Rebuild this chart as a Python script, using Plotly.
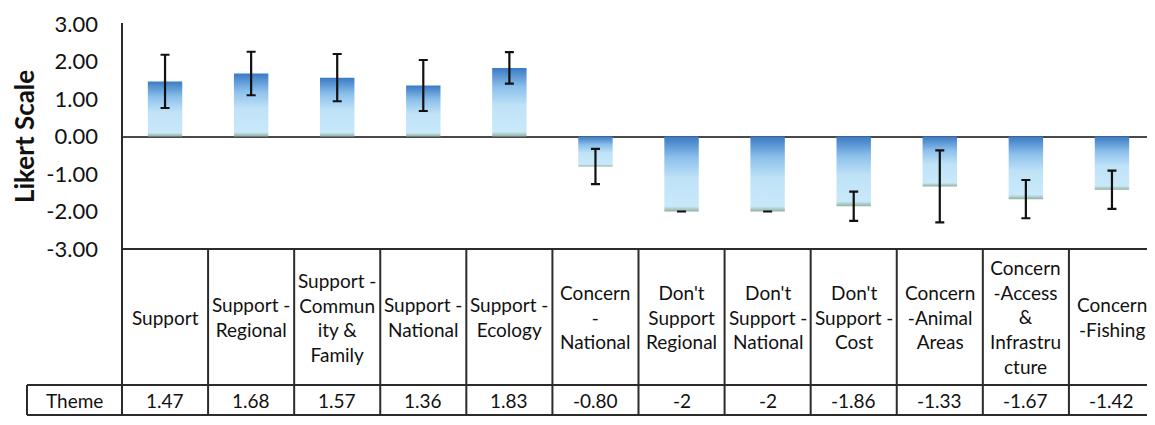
import plotly.graph_objects as go

# data
categories = [
    "Support",
    "Support -<br>Regional",
    "Support -<br>Commun<br>ity &<br>Family",
    "Support -<br>National",
    "Support -<br>Ecology",
    "Concern<br>-<br>National",
    "Don't<br>Support<br>Regional",
    "Don't<br>Support -<br>National",
    "Don't<br>Support -<br>Cost",
    "Concern<br>-Animal<br>Areas",
    "Concern<br>-Access<br>&<br>Infrastru<br>cture",
    "Concern<br>-Fishing",
]
values = [1.47, 1.68, 1.57, 1.36, 1.83, -0.80, -2, -2, -1.86, -1.33, -1.67, -1.42]
value_labels = ["1.47", "1.68", "1.57", "1.36", "1.83", "-0.80", "-2", "-2", "-1.86", "-1.33", "-1.67", "-1.42"]
# error bar half lengths
errors = [0.71, 0.58, 0.63, 0.68, 0.42, 0.47, 0.0, 0.0, 0.39, 0.96, 0.51, 0.51]
row_name = "Theme"
y_title = "Likert Scale"
y_ticks = [-3, -2, -1, 0, 1, 2, 3]
y_ticktext = [f"{t:.2f}" for t in y_ticks]  # plain hyphen like the original

FONT = "Lato, 'Open Sans', sans-serif"
TXT = "#111111"
LINE = "#2b2b2b"
# the page body adds an 8px offset, so the figure is a bit smaller than the window
OFF = 8
W, H = 1155 - OFF, 425 - OFF
AXIS_X = 122            # window px of the value axis
Y_TOP, Y_BOT = 24, 249  # window px of 3.00 and -3.00
Y_HDR, Y_ROW = 385, 415  # bottom of header row, bottom of value row
THEME_X = 27
BAR_HALF = 0.2


def px(pix):
    return (pix - OFF) / W


def py(pix):
    return (H - (pix - OFF)) / H


GRADIENT = [
    [0.0, "#93aea6"], [0.03, "#a9c9c4"], [0.07, "#c9e9fa"],
    [0.45, "#bfe2f7"], [0.72, "#8cc0eb"], [1.0, "#3a7ac4"],
]

traces = []
for i, v in enumerate(values):
    xs = [i - BAR_HALF, i + BAR_HALF, i + BAR_HALF, i - BAR_HALF, i - BAR_HALF]
    ys = [0, 0, v, v, 0]
    traces.append(go.Scatter(
        x=xs, y=ys, mode="none", fill="toself",
        fillgradient=dict(type="vertical", colorscale=GRADIENT),
        showlegend=False, hoverinfo="skip",
    ))

traces.append(go.Scatter(
    x=list(range(len(values))), y=values, mode="markers",
    marker=dict(opacity=0, size=1),
    error_y=dict(type="data", array=errors, color="#111111", thickness=2.2, width=4.5),
    showlegend=False,
))

fig = go.Figure(data=traces)

shapes = []
# value axis line, running down through the table
shapes.append(dict(type="line", xref="paper", yref="paper",
                   x0=px(AXIS_X), x1=px(AXIS_X), y0=py(Y_ROW), y1=py(Y_TOP - 1),
                   line=dict(color=LINE, width=2)))
# table horizontals
shapes.append(dict(type="line", xref="x", yref="paper", x0=-0.5, x1=11.5,
                   y0=py(Y_BOT), y1=py(Y_BOT), line=dict(color=LINE, width=2)))
for yy in (Y_HDR, Y_ROW):
    shapes.append(dict(type="line", xref="paper", yref="paper", x0=px(THEME_X), x1=1,
                       y0=py(yy), y1=py(yy), line=dict(color=LINE, width=2)))
shapes.append(dict(type="line", xref="paper", yref="paper", x0=px(THEME_X), x1=px(THEME_X),
                   y0=py(Y_ROW), y1=py(Y_HDR), line=dict(color=LINE, width=2)))
# column dividers
for k in range(len(values)):
    xb = k + 0.5
    shapes.append(dict(type="line", xref="x", yref="paper", x0=xb, x1=xb,
                       y0=py(Y_ROW), y1=py(Y_BOT), line=dict(color=LINE, width=2)))

annotations = []
for i, (cat, lab) in enumerate(zip(categories, value_labels)):
    annotations.append(dict(x=i, xref="x", y=py((Y_BOT + Y_HDR) / 2), yref="paper",
                            text=cat, showarrow=False, xanchor="center", yanchor="middle",
                            font=dict(family=FONT, size=19, color=TXT)))
    annotations.append(dict(x=i, xref="x", y=py((Y_HDR + Y_ROW) / 2), yref="paper",
                            text=lab, showarrow=False, xanchor="center", yanchor="middle",
                            font=dict(family=FONT, size=19, color=TXT)))
annotations.append(dict(x=px((THEME_X + AXIS_X) / 2), xref="paper", y=py((Y_HDR + Y_ROW) / 2),
                        yref="paper", text=row_name, showarrow=False, xanchor="center",
                        yanchor="middle", font=dict(family=FONT, size=19, color=TXT)))
annotations.append(dict(x=px(24), xref="paper", y=py(137), yref="paper", text=f"<b>{y_title}</b>",
                        textangle=-90, showarrow=False, xanchor="center", yanchor="middle",
                        font=dict(family=FONT, size=26, color=TXT)))

fig.update_layout(
    width=W, height=H,
    margin=dict(l=0, r=0, t=0, b=0),
    paper_bgcolor="white", plot_bgcolor="white",
    template="none",
    xaxis=dict(domain=[px(AXIS_X), 1], range=[-0.5, 11.5], showticklabels=False,
               showgrid=False, zeroline=False, showline=False, ticks="", automargin=False),
    yaxis=dict(domain=[py(Y_BOT), py(Y_TOP)], range=[-3, 3], tickvals=y_ticks, ticktext=y_ticktext,
               showgrid=False, zeroline=True, zerolinecolor="#4a4a4a", zerolinewidth=2,
               showline=False, ticks="", ticklabelstandoff=23, automargin=False,
               tickfont=dict(family=FONT, size=22, color=TXT)),
    shapes=shapes,
    annotations=annotations,
)
fig.write_html("out.html")
